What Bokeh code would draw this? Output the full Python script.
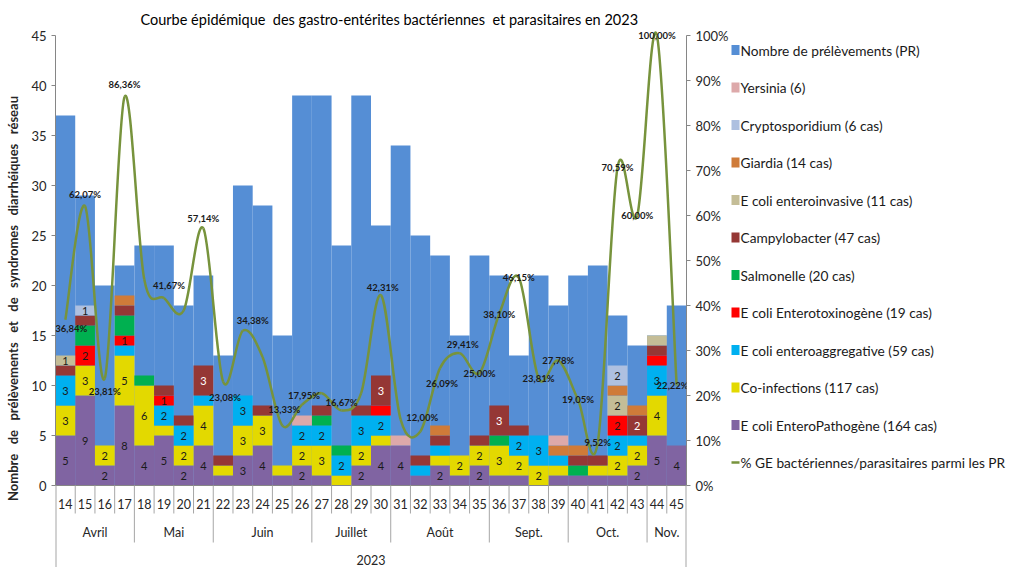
from bokeh.plotting import figure
from bokeh.models import (ColumnDataSource, Range1d, LinearAxis, FixedTicker,
                          PrintfTickFormatter, LabelSet)
from bokeh.layouts import row
from bokeh.embed import file_html
from bokeh.resources import INLINE
from bokeh.core.properties import value

# ---------------- data ----------------
title_text = "Courbe épidémique\u00a0 des gastro-entérites bactériennes\u00a0 et parasitaires en 2023"
y_label = "Nombre\u00a0\u00a0 de\u00a0\u00a0 prélèvements\u00a0\u00a0 et\u00a0\u00a0 de\u00a0\u00a0 syndromes\u00a0\u00a0 diarrhéiques\u00a0\u00a0 réseau"
weeks = [str(w) for w in range(14, 46)]
months = ["Avril", "Mai", "Juin", "Juillet", "Août", "Sept.", "Oct.", "Nov."]
weeks_per_month = [4, 4, 5, 4, 5, 4, 4, 2]
year = "2023"

prelevements = [37, 29, 20, 22, 24, 24, 18, 21, 13, 30, 28, 15, 39, 39, 24, 39,
                26, 34, 25, 23, 15, 23, 21, 13, 21, 18, 21, 22, 17, 14, 15, 18]
epec =     [5, 9, 2, 8, 4, 5, 2, 4, 1, 3, 4, 1, 2, 1, 0, 2, 4, 4, 1, 2, 1, 2, 1, 1, 0, 1, 1, 1, 1, 2, 5, 4]
coinf =    [3, 3, 2, 5, 6, 1, 2, 4, 1, 3, 3, 1, 2, 3, 1, 2, 1, 0, 0, 1, 2, 2, 3, 2, 2, 1, 0, 1, 2, 2, 4, 0]
eaec =     [3, 0, 0, 1, 0, 2, 2, 1, 0, 3, 0, 0, 2, 2, 2, 3, 2, 0, 1, 1, 0, 0, 0, 2, 3, 1, 0, 0, 2, 1, 3, 0]
etec =     [0, 2, 0, 1, 0, 1, 0, 0, 0, 0, 0, 0, 0, 0, 0, 0, 1, 0, 0, 0, 0, 0, 0, 0, 0, 0, 0, 0, 2, 0, 1, 0]
salmo =    [0, 2, 0, 2, 1, 0, 0, 0, 0, 0, 0, 0, 0, 1, 1, 0, 0, 0, 0, 0, 0, 0, 1, 0, 0, 0, 1, 0, 0, 0, 0, 0]
campylo =  [1, 1, 0, 1, 0, 1, 1, 3, 1, 0, 1, 0, 0, 1, 0, 1, 3, 0, 1, 1, 0, 1, 3, 1, 0, 0, 1, 1, 0, 2, 1, 0]
eiec =     [1, 0, 0, 0, 0, 0, 0, 0, 0, 0, 0, 0, 0, 0, 0, 0, 0, 0, 0, 0, 0, 0, 0, 0, 0, 0, 0, 0, 2, 0, 1, 0]
giardia =  [0, 0, 0, 1, 0, 0, 0, 0, 0, 0, 0, 0, 0, 0, 0, 0, 0, 0, 0, 1, 0, 0, 0, 0, 0, 1, 1, 0, 1, 1, 0, 0]
crypto =   [0, 1, 0, 0, 0, 0, 0, 0, 0, 0, 0, 0, 0, 0, 0, 0, 0, 0, 0, 0, 0, 0, 0, 0, 0, 0, 0, 0, 2, 0, 0, 0]
yersinia = [0, 0, 0, 0, 0, 0, 0, 0, 0, 0, 0, 0, 1, 0, 0, 0, 0, 1, 0, 0, 0, 0, 0, 0, 0, 1, 0, 0, 0, 0, 0, 0]

pct_ge = [36.84, 62.07, 23.81, 86.36, 45.83, 41.67, 38.89, 57.14, 23.08, 34.38, 28.57,
          13.33, 17.95, 20.51, 16.67, 20.51, 42.31, 14.71, 12.00, 26.09, 29.41, 25.00,
          38.10, 46.15, 23.81, 27.78, 19.05, 9.52, 70.59, 60.00, 100.00, 22.22]
unlabeled_weeks = ["18", "20", "24", "27", "29", "31"]

lab_pr = "Nombre de prélèvements (PR)"
lab_line = "% GE bactériennes/parasitaires parmi les PR"
stack_series = [  # bottom -> top
    ("epec", "E coli EnteroPathogène (164 cas)", epec, "#8064A2"),
    ("coinf", "Co-infections (117 cas)", coinf, "#E3D900"),
    ("eaec", "E coli enteroaggregative (59 cas)", eaec, "#00B0F0"),
    ("etec", "E coli Enterotoxinogène (19 cas)", etec, "#FF0000"),
    ("salmo", "Salmonelle (20 cas)", salmo, "#00B050"),
    ("campylo", "Campylobacter (47 cas)", campylo, "#953735"),
    ("eiec", "E coli enteroinvasive (11 cas)", eiec, "#C4BD97"),
    ("giardia", "Giardia (14 cas)", giardia, "#CF7B39"),
    ("crypto", "Cryptosporidium (6 cas)", crypto, "#AEC0E0"),
    ("yersinia", "Yersinia (6)", yersinia, "#DDA9AA"),
]

# ---------------- style ----------------
FONT = "Lato"
PR_COLOR = "#558ED5"
LINE_COLOR = "#77933C"
AXIS_COLOR = "#868686"
SEP_COLOR = "#A6A6A6"
TEXT_COLOR = "#262626"
no_label_series = ["salmo", "giardia", "yersinia"]
single_labels = [("14", "eiec"), ("15", "crypto"), ("17", "etec"), ("19", "etec")]
label_nudge = {"14": (6, -9), "15": (0, 12), "16": (0, -13), "17": (0, 12), "19": (5, 12),
               "21": (0, 10), "22": (2, -16), "23": (10, 10), "25": (2, 16), "26": (2, 9),
               "28": (0, 8), "30": (2, 8), "32": (2, 14), "33": (2, -15), "34": (3, 9),
               "45": (-4, 0)}

Y_MAX = 45          # left axis max
Y_TOP = 45.6        # small headroom above the axis (for the 100 % label)
Y_BOT = -8.2        # room below the baseline for the category axis
PCT_SCALE = 100 / Y_MAX
H = 567
LEFT = 55
FRAME_W = 631
RIGHT = 44
TOP = 29
FRAME_H = H - TOP

p = figure(x_range=weeks, y_range=Range1d(Y_BOT, Y_TOP), output_backend="svg",
           toolbar_location=None, frame_width=FRAME_W, frame_height=FRAME_H,
           min_border_left=LEFT, min_border_top=TOP, min_border_bottom=0,
           min_border_right=RIGHT, x_axis_location=None, outline_line_color=None,
           title=title_text)
p.x_range.range_padding = 0
p.extra_y_ranges = {"pct": Range1d(Y_BOT * PCT_SCALE, Y_TOP * PCT_SCALE)}
p.grid.visible = False
p.background_fill_color = "white"
p.border_fill_color = "white"

p.title.text_font = FONT
p.title.text_font_size = "14.5px"
p.title.text_font_style = "normal"
p.title.text_color = "#000000"
p.title.align = "left"
p.title.offset = 85
p.title.standoff = 4

ya = p.yaxis[0]
ya.bounds = (0, Y_MAX)
ya.ticker = FixedTicker(ticks=list(range(0, Y_MAX + 1, 5)))
ya.axis_label = y_label
ya.axis_label_text_font = FONT
ya.axis_label_text_font_size = "13px"
ya.axis_label_text_font_style = "bold"
ya.axis_label_text_color = TEXT_COLOR
ya.axis_label_standoff = 7
ya.major_label_text_font = FONT
ya.major_label_text_font_size = "13px"
ya.major_label_text_color = TEXT_COLOR
ya.major_label_standoff = 5
ya.axis_line_color = AXIS_COLOR
ya.major_tick_line_color = AXIS_COLOR
ya.major_tick_out = 4
ya.major_tick_in = 0
ya.minor_tick_line_color = None

ra = LinearAxis(y_range_name="pct", bounds=(0, 100),
                ticker=FixedTicker(ticks=list(range(0, 101, 10))),
                formatter=PrintfTickFormatter(format="%d%%"))
ra.major_label_text_font = FONT
ra.major_label_text_font_size = "13px"
ra.major_label_text_color = TEXT_COLOR
ra.major_label_standoff = 5
ra.axis_line_color = AXIS_COLOR
ra.major_tick_line_color = AXIS_COLOR
ra.major_tick_out = 4
ra.major_tick_in = 0
ra.minor_tick_line_color = None
p.add_layout(ra, "right")

# bars
data = {"week": weeks, "pr": prelevements}
for key, _, vals, _ in stack_series:
    data[key] = vals
src = ColumnDataSource(data)
p.vbar(x="week", top="pr", width=1.0, source=src, fill_color=PR_COLOR, line_color=None)
p.vbar_stack([s[0] for s in stack_series], x="week", width=1.0, source=src,
             fill_color=[s[3] for s in stack_series], line_color=None)

# bar value labels
lx, ly, lt, lc = [], [], [], []
cum = [0] * len(weeks)
for key, _, vals, _ in stack_series:
    for i, v in enumerate(vals):
        bottom = cum[i]
        cum[i] += v
        show = (v >= 2 and key not in no_label_series) or ((weeks[i], key) in single_labels)
        if v > 0 and show:
            lx.append(weeks[i]); ly.append(bottom + v / 2); lt.append(str(v))
            lc.append("#FFFFFF" if key == "campylo" else "#1A1A1A")
p.text(x="x", y="y", text="t", text_color="c",
       source=ColumnDataSource(dict(x=lx, y=ly, t=lt, c=lc)),
       text_align="center", text_baseline="middle", text_font=value(FONT),
       text_font_size="11px")

# smoothed percentage line (cubic bezier segments through the data points)
xs = [i + 0.5 for i in range(len(weeks))]
n = len(xs)
bz = dict(x0=[], y0=[], x1=[], y1=[], cx0=[], cy0=[], cx1=[], cy1=[])
for i in range(n - 1):
    a, b, c, d = max(i - 1, 0), i, i + 1, min(i + 2, n - 1)
    bz["x0"].append(xs[b]); bz["y0"].append(pct_ge[b])
    bz["x1"].append(xs[c]); bz["y1"].append(pct_ge[c])
    bz["cx0"].append(xs[b] + (xs[c] - xs[a]) / 6)
    bz["cy0"].append(pct_ge[b] + (pct_ge[c] - pct_ge[a]) / 6)
    bz["cx1"].append(xs[c] - (xs[d] - xs[b]) / 6)
    bz["cy1"].append(pct_ge[c] - (pct_ge[d] - pct_ge[b]) / 6)
p.bezier(x0="x0", y0="y0", x1="x1", y1="y1", cx0="cx0", cy0="cy0",
         cx1="cx1", cy1="cy1", source=ColumnDataSource(bz),
         line_color=LINE_COLOR, line_width=2.5, y_range_name="pct")

# percentage labels
px_, py_, pt_, pdx, pdy = [], [], [], [], []
for i, w in enumerate(weeks):
    if w in unlabeled_weeks:
        continue
    dx, dy = label_nudge.get(w, (0, 0))
    px_.append(xs[i]); py_.append(pct_ge[i])
    pt_.append(f"{pct_ge[i]:.2f}".replace(".", ",") + "%")
    pdx.append(dx); pdy.append(dy)
p.add_layout(LabelSet(x="x", y="y", text="t", x_offset="dx", y_offset="dy",
                      y_range_name="pct",
                      source=ColumnDataSource(dict(x=px_, y=py_, t=pt_, dx=pdx, dy=pdy)),
                      text_align="center", text_baseline="middle",
                      text_font=value(FONT), text_font_size="9.5px",
                      text_font_style="bold", text_color="#1A1A1A"))

# ---------------- category axis: weeks / months / year ----------------
nw = len(weeks)
bounds = [0]
for k in weeks_per_month:
    bounds.append(bounds[-1] + k)
p.segment(x0=[0], y0=[0], x1=[nw], y1=[0], line_color=AXIS_COLOR, line_width=1)
sx, sy1, sw = [], [], []
for b in range(nw + 1):
    sx.append(b)
    if b == 0 or b == nw:
        sy1.append(Y_BOT); sw.append(2)
    elif b in bounds:
        sy1.append(-5.7); sw.append(1)
    else:
        sy1.append(-2.8); sw.append(1)
p.segment(x0=sx, y0=[0] * len(sx), x1=sx, y1=sy1, line_width=sw, line_color=SEP_COLOR)
p.text(x=weeks, y=[-1.8] * nw, text=weeks, text_align="center", text_baseline="middle",
       text_font=value(FONT), text_font_size="12.5px", text_color=TEXT_COLOR)
mcx = [(bounds[j] + bounds[j + 1]) / 2 for j in range(len(months))]
p.text(x=mcx, y=[-4.7] * len(months), text=months, text_align="center",
       text_baseline="middle", text_font=value(FONT), text_font_size="12.5px",
       text_color=TEXT_COLOR)
p.text(x=[nw / 2], y=[-7.4], text=[year], text_align="center", text_baseline="middle",
       text_font=value(FONT), text_font_size="12.5px", text_color=TEXT_COLOR)

# ---------------- legend panel on the right ----------------
LEG_W = 1009 - (LEFT + FRAME_W + RIGHT)
pl = figure(frame_width=LEG_W, frame_height=FRAME_H, x_range=Range1d(0, LEG_W),
            y_range=Range1d(H, TOP), output_backend="svg", toolbar_location=None,
            x_axis_location=None, y_axis_location=None, outline_line_color=None,
            min_border_left=0, min_border_right=0, min_border_top=TOP,
            min_border_bottom=0)
pl.grid.visible = False
pl.background_fill_color = "white"
pl.border_fill_color = "white"

leg_labels = [lab_pr] + [s[1] for s in reversed(stack_series)] + [lab_line]
leg_colors = [PR_COLOR] + [s[3] for s in reversed(stack_series)]
ROW0, PITCH = 49.5, 37.5
row_y = [ROW0 + PITCH * k for k in range(len(leg_labels))]
pl.rect(x=[3] * len(leg_colors), y=row_y[:len(leg_colors)], width=10, height=10,
        fill_color=leg_colors, line_color=None)
pl.segment(x0=[-2], y0=[row_y[-1]], x1=[8], y1=[row_y[-1]], line_color=LINE_COLOR,
           line_width=2.5)
pl.text(x=[9] * len(leg_labels), y=row_y, text=leg_labels, text_align="left",
        text_baseline="middle", text_font=value(FONT), text_font_size="13.7px",
        text_color="#1A1A1A")

layout = row(p, pl, spacing=0)
open("out.html", "w").write(file_html(layout, INLINE))
